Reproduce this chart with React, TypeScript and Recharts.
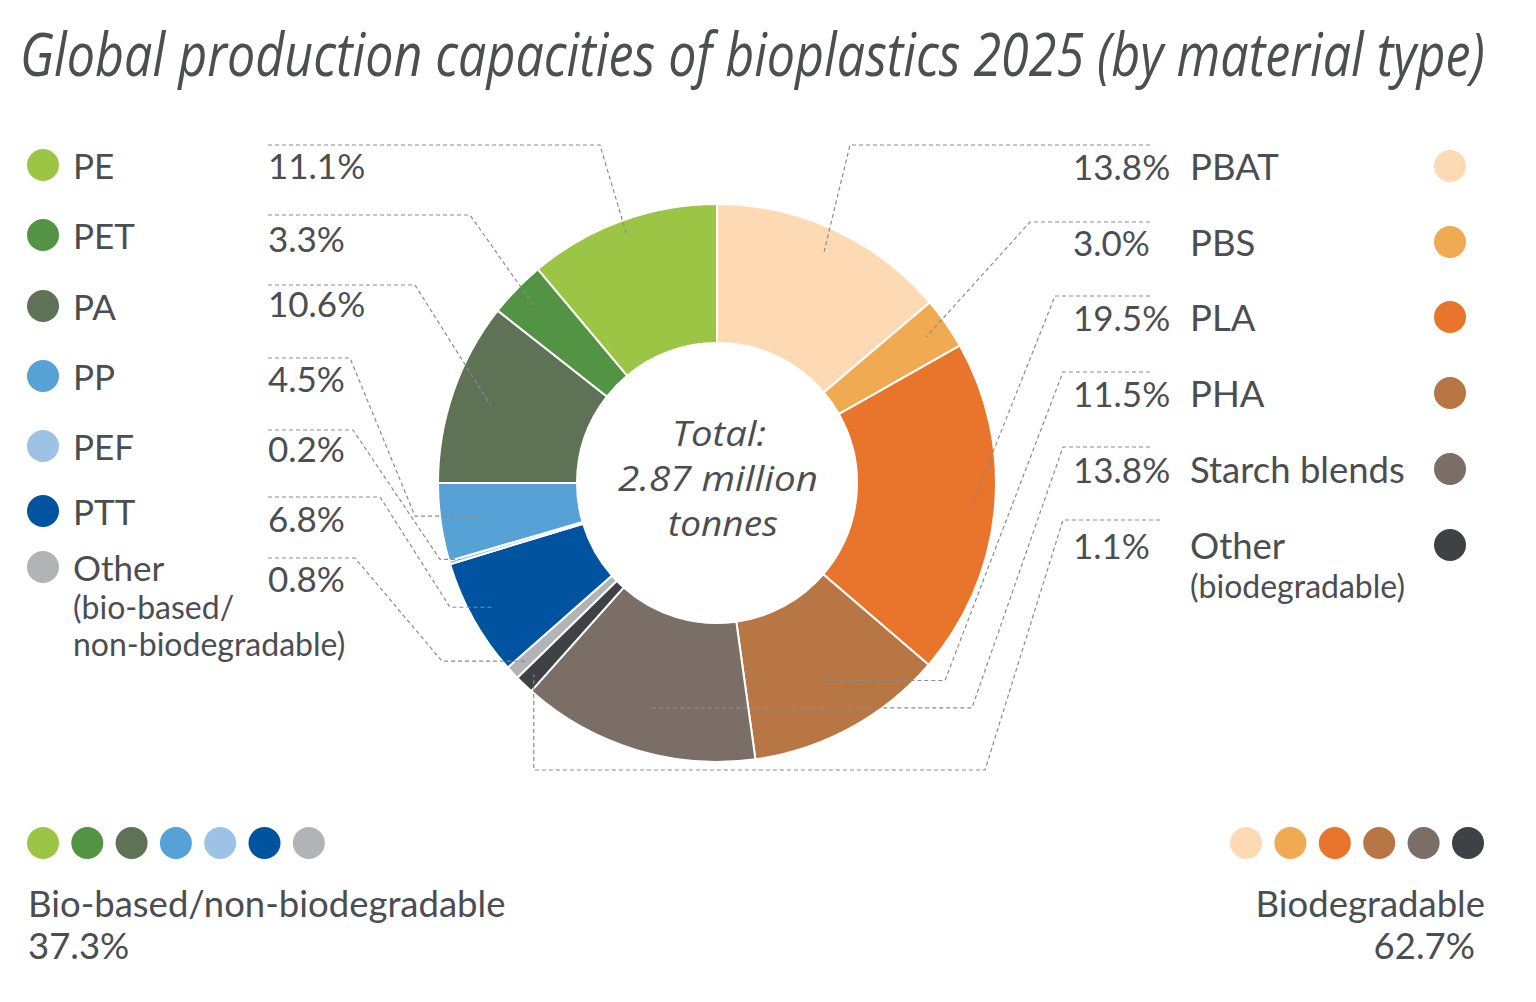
import { useMemo } from 'react';
import { PieChart, Pie, Cell } from 'recharts';

// bio-based / non-biodegradable group (legend order, top to bottom)
const bioNames = ['PE', 'PET', 'PA', 'PP', 'PEF', 'PTT', 'Other'];
const bioShares = [11.1, 3.3, 10.6, 4.5, 0.2, 6.8, 0.8];
const bioColors = ['#9dc545', '#529443', '#5e7355', '#56a2d6', '#9dc2e6', '#00539f', '#b1b3b4'];

// biodegradable group (legend order, top to bottom)
const degNames = ['PBAT', 'PBS', 'PLA', 'PHA', 'Starch blends', 'Other'];
const degShares = [13.8, 3.0, 19.5, 11.5, 13.8, 1.1];
const degColors = ['#fddab4', '#efaa52', '#e9742b', '#b87644', '#7a6e66', '#3e4245'];

const groupNames = ['Bio-based/non-biodegradable', 'Biodegradable'];
const groupTotals = [37.3, 62.7];

const titleText = 'Global production capacities of bioplastics 2025 (by material type)';
const centerLines = ['Total:', '2.87 million', 'tonnes'];

const TEXT = '#4b4e51';
const LINE = '#8a8c8e';
const FONT = 'Lato, "Open Sans", sans-serif';
const ITALIC_FONT = '"Open Sans", sans-serif';
const RAD = Math.PI / 180;

// label layout (pixel positions of the side lists)
const leftRows = [
  { y: 165, py: 165, ly: 145, ex: 600, r: 265 },
  { y: 235, py: 238, ly: 215, ex: 470, r: 255 },
  { y: 306, py: 303, ly: 285, ex: 415, r: 240 },
  { y: 376, py: 378, ly: 358, ex: 350, bx: 415, r: 235 },
  { y: 446, py: 448, ly: 430, ex: 353, bx: 440, r: 268 },
  { y: 511, py: 518, ly: 497, ex: 380, bx: 450, r: 255 },
  { y: 567, py: 578, ly: 558, ex: 355, bx: 442, r: 262 },
];
const rightRows = [
  { y: 166, ly: 145, ex: 850, r: 255 },
  { y: 242, ly: 222, ex: 1030, r: 255 },
  { y: 317, ly: 296, ex: 1055, r: 255 },
  { y: 393, ly: 372, ex: 1063, bx: 945, r: 225 },
  { y: 469, ly: 447, ex: 1063, bx: 972, r: 235 },
  { y: 545, ly: 520, ex: 1063, bx: 985, drop: 770, r: 265 },
];

// clockwise from 12 o'clock: biodegradable first, then the bio-based group reversed
const pieData = [
  ...degNames.map((n, i) => ({ name: n, value: degShares[i], color: degColors[i], side: 'right', row: i })),
  ...bioNames
    .map((n, i) => ({ name: n, value: bioShares[i], color: bioColors[i], side: 'left', row: i }))
    .reverse(),
];

const pct = (v: number) => `${v.toFixed(1)}%`;

const measure = (text: string, font: string) => {
  const ctx = document.createElement('canvas').getContext('2d');
  if (!ctx) return 0;
  ctx.font = font;
  return ctx.measureText(text).width;
};

const renderLabel = (props: any) => {
  const { cx, cy, midAngle, index } = props;
  const d = pieData[index];
  if (d.side === 'left') {
    const lay = leftRows[d.row];
    const ax = cx + lay.r * Math.cos(-midAngle * RAD);
    const ay = cy + lay.r * Math.sin(-midAngle * RAD);
    const pts = [`268,${lay.ly}`, `${lay.ex},${lay.ly}`];
    if (lay.bx !== undefined) pts.push(`${lay.bx},${ay}`);
    pts.push(`${ax},${ay}`);
    const isOther = d.row === bioNames.length - 1;
    return (
      <g key={`l-${index}`}>
        <polyline points={pts.join(' ')} fill="none" stroke={LINE} strokeWidth={1.2} strokeDasharray="4 3" />
        <circle cx={43} cy={lay.y} r={16} fill={d.color} />
        <text x={73} y={lay.y} dominantBaseline="central" fontSize={35} fill={TEXT} fontFamily={FONT}>
          {d.name}
        </text>
        {isOther && (
          <>
            <text x={73} y={lay.y + 39} dominantBaseline="central" fontSize={32} fill={TEXT} fontFamily={FONT}>
              (bio-based/
            </text>
            <text x={73} y={lay.y + 76} dominantBaseline="central" fontSize={32} fill={TEXT} fontFamily={FONT}>
              non-biodegradable)
            </text>
          </>
        )}
        <text x={268} y={lay.py} dominantBaseline="central" fontSize={35} fill={TEXT} fontFamily={FONT}>
          {pct(d.value)}
        </text>
      </g>
    );
  }
  const lay = rightRows[d.row];
  const ax = cx + lay.r * Math.cos(-midAngle * RAD);
  const ay = cy + lay.r * Math.sin(-midAngle * RAD);
  const isOther = d.row === degNames.length - 1;
  const pts = [`${isOther ? 1160 : 1150},${lay.ly}`, `${lay.ex},${lay.ly}`];
  if (lay.drop !== undefined) {
    pts.push(`${lay.bx},${lay.drop}`, `${ax},${lay.drop}`);
  } else if (lay.bx !== undefined) {
    pts.push(`${lay.bx},${ay}`);
  }
  pts.push(`${ax},${ay}`);
  return (
    <g key={`r-${index}`}>
      <polyline points={pts.join(' ')} fill="none" stroke={LINE} strokeWidth={1.2} strokeDasharray="4 3" />
      <text x={1073} y={lay.y} dominantBaseline="central" fontSize={35} fill={TEXT} fontFamily={FONT}>
        {pct(d.value)}
      </text>
      <text x={1190} y={lay.y} dominantBaseline="central" fontSize={36.5} fill={TEXT} fontFamily={FONT}>
        {d.name}
      </text>
      {isOther && (
        <text x={1190} y={lay.y + 40} dominantBaseline="central" fontSize={32} fill={TEXT} fontFamily={FONT}>
          (biodegradable)
        </text>
      )}
      <circle cx={1450} cy={lay.y} r={16} fill={d.color} />
    </g>
  );
};

export default function App() {
  // squeeze the italic title / centre text to the narrow widths of the original
  const titleScale = useMemo(() => {
    const w = measure(titleText, `italic 60px ${ITALIC_FONT}`);
    return w > 0 ? 1465 / w : 0.86;
  }, []);
  const centerWidths = [94, 200, 110];
  const centerScales = useMemo(
    () =>
      centerLines.map((t, i) => {
        const w = measure(t, `italic 34px ${ITALIC_FONT}`);
        return w > 0 ? centerWidths[i] / w : 0.95;
      }),
    []
  );
  const centerPos = [
    { x: 719, y: 446 },
    { x: 718, y: 491 },
    { x: 723, y: 536 },
  ];

  return (
    <div style={{ position: 'absolute', top: 0, left: 0, width: 1536, height: 1002, background: '#fff' }}>
      <svg width={1536} height={1002} style={{ position: 'absolute', top: 0, left: 0 }}>
        <g transform={`translate(20,76) scale(${titleScale},1)`}>
          <text x={0} y={0} fontSize={60} fontStyle="italic" fill="#4d4e50" fontFamily={ITALIC_FONT}>
            {titleText}
          </text>
        </g>

        {centerLines.map((t, i) => (
          <g key={`ct-${i}`} transform={`translate(${centerPos[i].x},${centerPos[i].y}) scale(${centerScales[i]},1)`}>
            <text x={0} y={0} textAnchor="middle" fontSize={34} fontStyle="italic" fill={TEXT} fontFamily={ITALIC_FONT}>
              {t}
            </text>
          </g>
        ))}

        {bioColors.map((c, i) => (
          <circle key={`bd-${i}`} cx={43 + i * 44.3} cy={843} r={16} fill={c} />
        ))}
        <text x={28} y={903} dominantBaseline="central" fontSize={36.5} fill={TEXT} fontFamily={FONT}>
          {groupNames[0]}
        </text>
        <text x={28} y={945} dominantBaseline="central" fontSize={36.5} fill={TEXT} fontFamily={FONT}>
          {pct(groupTotals[0])}
        </text>

        {degColors.map((c, i) => (
          <circle key={`dd-${i}`} cx={1246 + i * 44.4} cy={843} r={16} fill={c} />
        ))}
        <text x={1485} y={903} textAnchor="end" dominantBaseline="central" fontSize={36.5} fill={TEXT} fontFamily={FONT}>
          {groupNames[1]}
        </text>
        <text x={1475} y={945} textAnchor="end" dominantBaseline="central" fontSize={36.5} fill={TEXT} fontFamily={FONT}>
          {pct(groupTotals[1])}
        </text>
      </svg>

      <div style={{ position: 'absolute', top: 0, left: 0 }}>
        <PieChart width={1536} height={1002} margin={{ top: 0, right: 0, bottom: 0, left: 0 }}>
          <Pie
            data={pieData}
            dataKey="value"
            nameKey="name"
            cx={717}
            cy={483}
            innerRadius={140}
            outerRadius={279}
            startAngle={90}
            endAngle={-270}
            stroke="#ffffff"
            strokeWidth={2}
            label={renderLabel}
            labelLine={false}
            isAnimationActive={false}
          >
            {pieData.map((d, i) => (
              <Cell key={`c-${i}`} fill={d.color} />
            ))}
          </Pie>
        </PieChart>
      </div>
    </div>
  );
}
